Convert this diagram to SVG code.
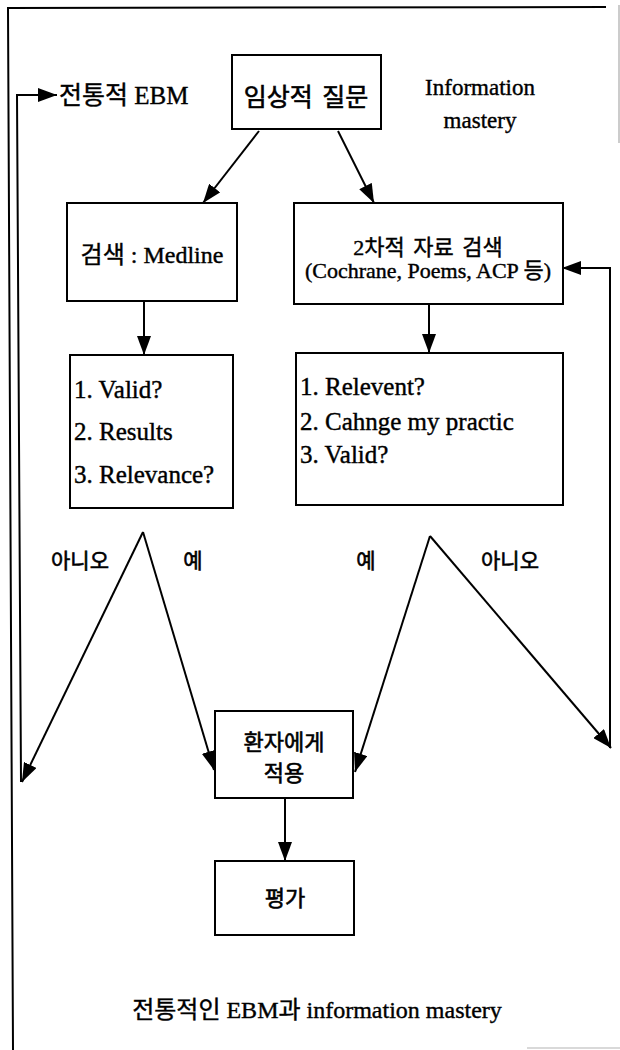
<svg xmlns="http://www.w3.org/2000/svg" width="620" height="1050" viewBox="0 0 620 1050">
<style>
.box{fill:#fff;stroke:#000;stroke-width:2}
.ln{fill:none;stroke:#000;stroke-width:2}
.t{font-family:"Liberation Serif","Noto Sans CJK KR",serif;fill:#000;stroke:#000;stroke-width:0.4}
.k{font-family:"Noto Sans CJK KR","Liberation Sans",sans-serif;fill:#000;stroke:#000;stroke-width:0.6}
.c{text-anchor:middle}
</style>
<defs>
<marker id="ah" markerUnits="userSpaceOnUse" markerWidth="19" markerHeight="14" refX="19" refY="7" orient="auto">
<path d="M0,0 L19,7 L0,14 Z" fill="#000"/>
</marker>
</defs>
<rect width="620" height="1050" fill="#fff"/>
<g id="frame">
<path class="ln" d="M13,1050 L8,8 L606,7"/>
<line x1="619" y1="5" x2="619" y2="143" stroke="#bbb" stroke-width="1.5"/>
<line x1="527" y1="1048" x2="620" y2="1048" stroke="#ccc" stroke-width="1.5"/>
</g>
<g id="connectors">
<line class="ln" x1="259" y1="131" x2="203" y2="203" marker-end="url(#ah)"/>
<line class="ln" x1="338" y1="131" x2="374" y2="203" marker-end="url(#ah)"/>
<line class="ln" x1="144" y1="301" x2="144" y2="355" marker-end="url(#ah)"/>
<line class="ln" x1="429" y1="304" x2="429" y2="353" marker-end="url(#ah)"/>
<line class="ln" x1="143" y1="532" x2="22" y2="782" marker-end="url(#ah)"/>
<line class="ln" x1="143" y1="532" x2="214" y2="770" marker-end="url(#ah)"/>
<line class="ln" x1="430" y1="536" x2="355" y2="772" marker-end="url(#ah)"/>
<line class="ln" x1="430" y1="536" x2="611" y2="748" marker-end="url(#ah)"/>
<path class="ln" d="M610,748 L610,268 L562,268" marker-end="url(#ah)"/>
<path class="ln" d="M21,782 L17,95 L57,95" marker-end="url(#ah)"/>
<line class="ln" x1="285" y1="798" x2="285" y2="861" marker-end="url(#ah)"/>
</g>
<g id="label-traditional">
<text class="t" x="59" y="104" font-size="25">전통적 EBM</text>
</g>
<g id="node-question">
<rect class="box" x="232" y="55" width="149" height="74"/>
<text class="k c" x="306" y="106" font-size="25" word-spacing="4">임상적 질문</text>
</g>
<g id="label-im">
<text class="t c" x="480" y="95" font-size="23">Information</text>
<text class="t c" x="480" y="128" font-size="23">mastery</text>
</g>
<g id="node-medline">
<rect class="box" x="67" y="203" width="170" height="98"/>
<text class="t c" x="152" y="263" font-size="24">검색 : Medline</text>
</g>
<g id="node-secondary">
<rect class="box" x="294" y="203" width="269" height="101"/>
<text class="t c" x="428" y="255" font-size="22" word-spacing="3">2차적 자료 검색</text>
<text class="t c" x="428" y="278" font-size="22">(Cochrane, Poems, ACP 등)</text>
</g>
<g id="node-check-left">
<rect class="box" x="70" y="355" width="163" height="153"/>
<text class="t" x="74" y="398" font-size="25">1.  Valid?</text>
<text class="t" x="74" y="440" font-size="25">2.  Results</text>
<text class="t" x="74" y="483" font-size="25">3.  Relevance?</text>
</g>
<g id="node-check-right">
<rect class="box" x="296" y="353" width="267" height="152"/>
<text class="t" x="300" y="395" font-size="25">1.  Relevent?</text>
<text class="t" x="300" y="430" font-size="25">2.  Cahnge  my  practic</text>
<text class="t" x="300" y="463" font-size="25">3.  Valid?</text>
</g>
<g id="labels-branch">
<text class="k c" x="80" y="568" font-size="21">아니오</text>
<text class="k c" x="193" y="568" font-size="21">예</text>
<text class="k c" x="366" y="568" font-size="21">예</text>
<text class="k c" x="510" y="568" font-size="21">아니오</text>
</g>
<g id="node-apply">
<rect class="box" x="215" y="711" width="138" height="87"/>
<text class="k c" x="284" y="750" font-size="22">환자에게</text>
<text class="k c" x="284" y="781" font-size="22">적용</text>
</g>
<g id="node-eval">
<rect class="box" x="215" y="861" width="139" height="74"/>
<text class="k c" x="285" y="906" font-size="22">평가</text>
</g>
<g id="caption">
<text class="t c" x="317" y="1018" font-size="24">전통적인 EBM과 information mastery</text>
</g>
</svg>
